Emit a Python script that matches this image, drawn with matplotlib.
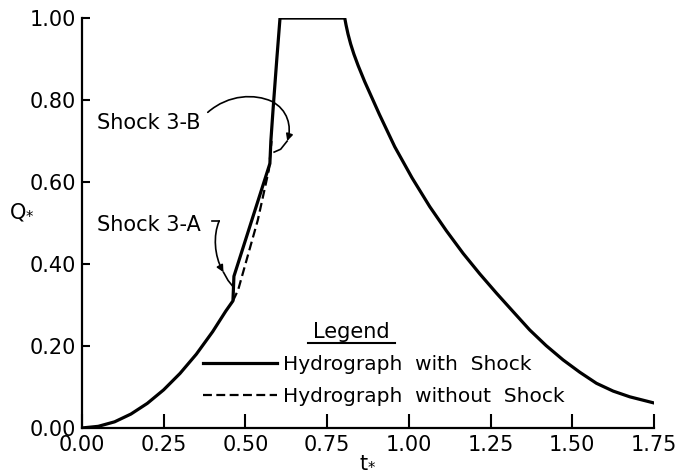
import numpy as np
import matplotlib
matplotlib.use('Agg')
import matplotlib.pyplot as plt
from matplotlib.path import Path
from matplotlib.patches import FancyArrowPatch
from matplotlib.lines import Line2D

# --- data read off the reference hydrograph ---
# rising limb up to shock 3-A
rise_t = [0.0, 0.05, 0.10, 0.15, 0.20, 0.25, 0.30, 0.35, 0.40, 0.44, 0.462]
rise_q = [0.0, 0.004, 0.015, 0.034, 0.060, 0.093, 0.133, 0.180, 0.235, 0.285, 0.310]

# solid hydrograph with shocks (3-A then 3-B), up to the plateau
shock_t = [0.462, 0.465, 0.523, 0.575, 0.578, 0.585, 0.596, 0.606, 0.804]
shock_q = [0.310, 0.370, 0.515, 0.645, 0.700, 0.780, 0.898, 1.000, 1.000]

# recession limb
reces_t = [0.804, 0.808, 0.814, 0.822, 0.832, 0.845, 0.865, 0.910, 0.957, 1.010,
           1.064, 1.115, 1.166, 1.217, 1.268, 1.320, 1.370, 1.420, 1.472, 1.523,
           1.574, 1.625, 1.676, 1.750]
reces_q = [1.000, 0.983, 0.961, 0.937, 0.912, 0.884, 0.845, 0.765, 0.686, 0.610,
           0.540, 0.481, 0.426, 0.376, 0.329, 0.283, 0.239, 0.201, 0.166, 0.136,
           0.109, 0.090, 0.076, 0.061]

# hydrograph without shock (dashed, between the two shocks)
noshock_t = [0.462, 0.478, 0.538, 0.572, 0.580]
noshock_q = [0.310, 0.337, 0.507, 0.630, 0.700]

x_ticks = [0.00, 0.25, 0.50, 0.75, 1.00, 1.25, 1.50, 1.75]
y_ticks = [0.00, 0.20, 0.40, 0.60, 0.80, 1.00]

plt.rcParams['font.family'] = ['DejaVu Sans']

fig = plt.figure(figsize=(6.77, 4.75), dpi=100)
ax = fig.add_axes([0.121, 0.099, 0.845, 0.863])

lw = 2.3
with_t = rise_t + shock_t[1:] + reces_t[1:]
with_q = rise_q + shock_q[1:] + reces_q[1:]
solid, = ax.plot(with_t, with_q, color='black', lw=lw, solid_joinstyle='round')
dashed, = ax.plot(noshock_t, noshock_q, color='black', lw=1.6, linestyle=(0, (4, 2)))

ax.set_xlim(0, 1.75)
ax.set_ylim(0, 1.0)
ax.set_xticks(x_ticks)
ax.set_yticks(y_ticks)
ax.set_xticklabels(['%.2f' % v for v in x_ticks])
ax.set_yticklabels(['%.2f' % v for v in y_ticks])
ax.tick_params(axis='x', direction='in', length=10, width=1.5, pad=5, labelsize=15)
ax.tick_params(axis='y', direction='in', length=6, width=1.5, pad=4, labelsize=15)
for side in ['top', 'right']:
    ax.spines[side].set_visible(False)
for side in ['left', 'bottom']:
    ax.spines[side].set_linewidth(1.6)

ax.set_xlabel(r't$_{*}$', fontsize=15, labelpad=-3)
ax.set_ylabel(r'Q$_{*}$', fontsize=15, rotation=0)
ax.yaxis.set_label_coords(-0.105, 0.50)

# shock labels
ax.text(0.046, 0.495, 'Shock 3-A', fontsize=15, va='center', ha='left')
ax.text(0.046, 0.744, 'Shock 3-B', fontsize=15, va='center', ha='left')

# arrow for 3-A: small hook then curve down to the shock
ax.plot([0.398, 0.420], [0.505, 0.505], color='black', lw=1.2)
path_a = Path([(0.420, 0.505), (0.401, 0.470), (0.405, 0.420), (0.433, 0.380)],
              [Path.MOVETO, Path.CURVE4, Path.CURVE4, Path.CURVE4])
ax.add_patch(FancyArrowPatch(path=path_a, arrowstyle='-|>', mutation_scale=10,
                             color='black', lw=1.2))
ax.plot([0.433, 0.447, 0.462], [0.380, 0.360, 0.345], color='black', lw=1.2)

# arrow for 3-B: loop over the curve, coming back in from the right
path_b = Path([(0.385, 0.770), (0.450, 0.815), (0.530, 0.815), (0.580, 0.797),
               (0.630, 0.777), (0.642, 0.735), (0.628, 0.700)],
              [Path.MOVETO, Path.CURVE4, Path.CURVE4, Path.CURVE4,
               Path.CURVE4, Path.CURVE4, Path.CURVE4])
ax.add_patch(FancyArrowPatch(path=path_b, arrowstyle='-|>', mutation_scale=10,
                             color='black', lw=1.2))
ax.plot([0.628, 0.608, 0.588], [0.700, 0.680, 0.673], color='black', lw=1.2)

# legend
handles = [Line2D([], [], color='black', lw=lw),
           Line2D([], [], color='black', lw=1.6, linestyle=(0, (4, 2)))]
ax.legend(handles, ['Hydrograph  with  Shock', 'Hydrograph  without  Shock'],
          loc='upper left', bbox_to_anchor=(0.2115, 0.177), frameon=False,
          fontsize=14.5, handlelength=3.7, handletextpad=0.3, labelspacing=0.62,
          borderpad=0, borderaxespad=0)
ax.text(0.823, 0.234, 'Legend', fontsize=15, ha='center', va='center')
ax.plot([0.691, 0.957], [0.207, 0.207], color='black', lw=1.5, clip_on=False)

fig.savefig('out.png', dpi=100)
